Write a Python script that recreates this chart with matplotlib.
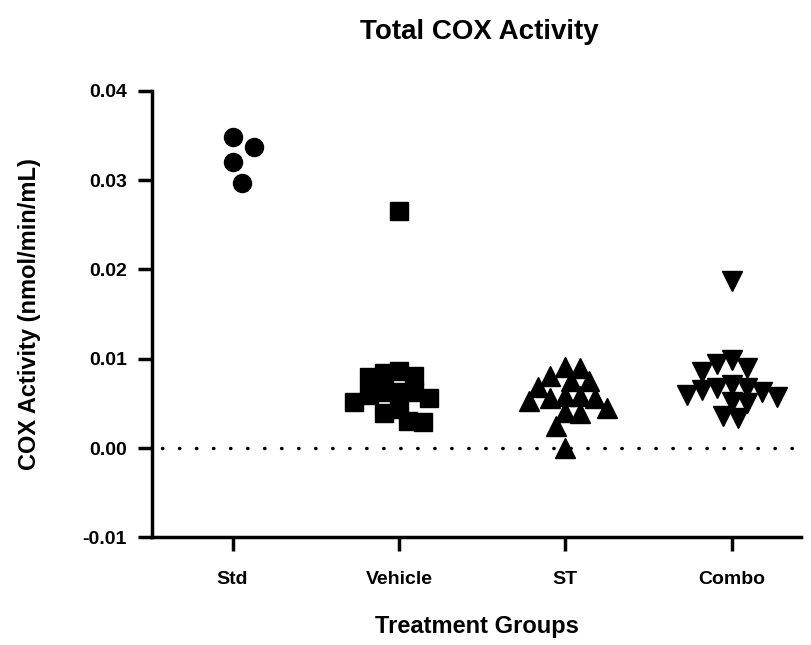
import numpy as np
import matplotlib
matplotlib.use("Agg")
import matplotlib.pyplot as plt

plt.rcParams['font.family'] = ['Liberation Sans', 'DejaVu Sans']
plt.rcParams['font.weight'] = 'bold'

groups = ["Std", "Vehicle", "ST", "Combo"]
std = [0.0348, 0.0337, 0.0320, 0.0297]
vehicle = [0.0265, 0.0086, 0.0084, 0.0081, 0.0080, 0.0063, 0.0063, 0.0063,
           0.0059, 0.0056, 0.0052, 0.0044, 0.0039, 0.0030, 0.0029]
st = [0.0091, 0.0090, 0.0081, 0.0075, 0.0075, 0.0068, 0.0058, 0.0058,
      0.0056, 0.0056, 0.0053, 0.0045, 0.0040, 0.0039, 0.0025, 0.0000]
combo = [0.0187, 0.0099, 0.0094, 0.0090, 0.0085, 0.0071, 0.0067, 0.0067,
         0.0065, 0.0063, 0.0059, 0.0057, 0.0051, 0.0050, 0.0036, 0.0034]
series = [std, vehicle, st, combo]
markers = ['o', 's', '^', 'v']
yticks = [-0.01, 0.00, 0.01, 0.02, 0.03, 0.04]

fig = plt.figure(figsize=(8.12, 6.45), dpi=100)
ax = fig.add_axes([0.187, 0.167, 0.80, 0.692])
xlim = (-0.485, 3.42)
ylim = (-0.01, 0.04)
ax.set_xlim(*xlim)
ax.set_ylim(*ylim)

# pixel scale so the swarm spacing matches marker size
px_x = 0.80 * 812 / (xlim[1] - xlim[0])
px_y = 0.692 * 645 / (ylim[1] - ylim[0])


def swarm(vals, gap):
    # simple beeswarm: nearest-to-centre free slot, in pixels
    order = np.argsort(vals)[::-1]
    placed = []
    offs = np.zeros(len(vals))
    for n, i in enumerate(order):
        y = vals[i] * px_y
        sign = -1 if n % 2 == 0 else 1
        cand = 0.0
        for k in range(0, 60):
            found = False
            for c in ([0.0] if k == 0 else [sign * k * 3.0, -sign * k * 3.0]):
                if all((c - px) ** 2 + (y - py) ** 2 >= gap ** 2 for px, py in placed):
                    cand = c
                    found = True
                    break
            if found:
                break
        placed.append((cand, y))
        offs[i] = cand
    return offs / px_x


for gi, vals in enumerate(series):
    vals = np.array(vals)
    xs = gi + swarm(vals, 15.0 if gi > 0 else 22.0)
    ax.plot(xs, vals, linestyle='none', marker=markers[gi], color='black',
            markersize=13 if markers[gi] in 'os' else 14, clip_on=False)

ax.axhline(0, xmin=0.015, xmax=1, color='black', linewidth=2.5,
           linestyle=(0, (0.1, 4.8)), dash_capstyle='round', zorder=0)

for s in ['top', 'right']:
    ax.spines[s].set_visible(False)
for s in ['left', 'bottom']:
    ax.spines[s].set_linewidth(2.5)

ax.set_xticks(range(len(groups)))
ax.set_xticklabels(groups)
ax.set_yticks(yticks)
ax.set_yticklabels([f"{t:.2f}" for t in yticks])
ax.tick_params(axis='both', width=2.5, length=10, labelsize=14, pad=8)
ax.tick_params(axis='x', pad=14)

ax.set_xlabel("Treatment Groups", fontsize=17, fontweight='bold', labelpad=20)
ax.set_ylabel("COX Activity (nmol/min/mL)", fontsize=17, fontweight='bold', labelpad=30)
fig.suptitle("Total COX Activity", x=0.59, y=0.97, fontsize=20, fontweight='bold')

fig.savefig("out.png", dpi=100)
